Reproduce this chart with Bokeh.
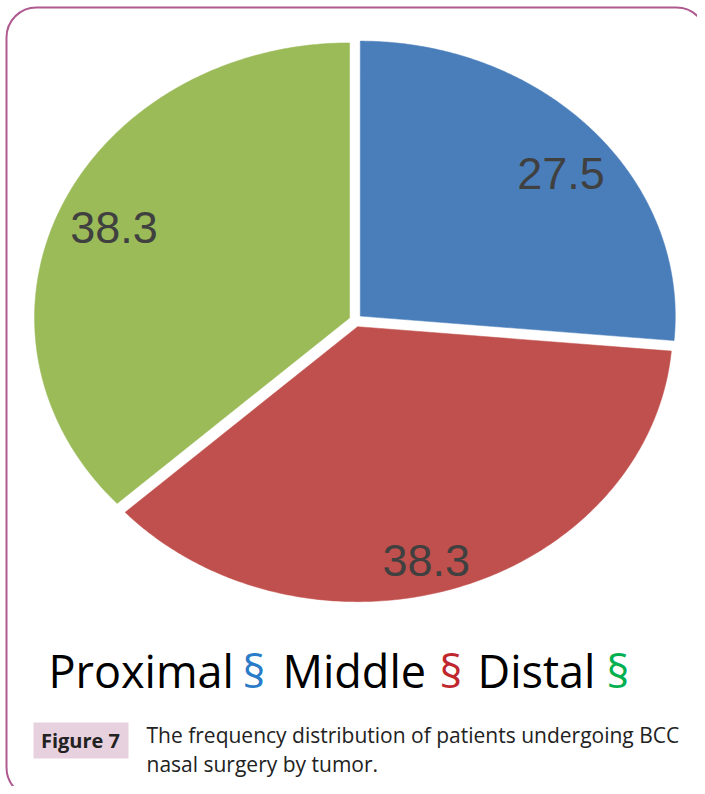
import numpy as np
from bokeh.plotting import figure
from bokeh.models import Range1d, BoxAnnotation, ColumnDataSource
from bokeh.core.properties import value
from bokeh.embed import file_html
from bokeh.resources import INLINE

# ---- data ----
categories = ["Proximal", "Middle", "Distal"]
values = [27.5, 38.3, 38.3]
value_labels = ["27.5", "38.3", "38.3"]
slice_colors = ["#4A7EBB", "#C0504D", "#9BBB59"]
legend_marks = ["#2A7BC8", "#C0272D", "#00B050"]
caption_tag = "Figure 7"
caption_lines = ["The frequency distribution of patients undergoing BCC",
                 "nasal surgery by tumor."]

# ---- layout (picture pixel coordinates) ----
W, H = 697, 786
cx, cy, rx, ry, explode = 355.0, 320.0, 315.0, 275.0, 6.5
label_r = [0.822, 0.878, 0.817]
label_da = [-3.25, -4.3, 0.0]

p = figure(width=W, height=H, output_backend="svg", toolbar_location=None,
           x_range=Range1d(0, W), y_range=Range1d(H, 0),
           min_border=0)
p.axis.visible = False
p.grid.visible = False
p.outline_line_color = None
p.background_fill_color = "white"
p.border_fill_color = "white"

# rounded border
p.add_layout(BoxAnnotation(left=6, right=706, top=7, bottom=797,
                           fill_alpha=0, line_color="#AE5A8E", line_alpha=1,
                           line_width=2, border_radius=30, level="underlay"))

# pie slices
vals = np.array(values, dtype=float)
frac = vals / vals.sum()
cum = np.concatenate([[0.0], np.cumsum(frac)])
xs, ys, lx, ly = [], [], [], []
for i in range(len(vals)):
    a0 = np.deg2rad(90 - 360 * cum[i])
    a1 = np.deg2rad(90 - 360 * cum[i + 1])
    tm = (a0 + a1) / 2
    ox, oy = explode * np.cos(tm), -explode * np.sin(tm)
    t = np.linspace(a0, a1, 200)
    xs.append(list(np.concatenate([[cx + ox], cx + ox + rx * np.cos(t)])))
    ys.append(list(np.concatenate([[cy + oy], cy + oy - ry * np.sin(t)])))
    tl = tm + np.deg2rad(label_da[i])
    lx.append(cx + ox + label_r[i] * rx * np.cos(tl))
    ly.append(cy + oy - label_r[i] * ry * np.sin(tl))

src = ColumnDataSource(dict(xs=xs, ys=ys, color=slice_colors,
                            lx=lx, ly=ly, txt=value_labels))
p.patches("xs", "ys", fill_color="color", line_color="color", line_width=0.5,
          source=src)
p.text("lx", "ly", text="txt", source=src, text_font=value("Liberation Sans"),
       text_font_size="45px", text_color="#404040", text_align="center",
       text_baseline="middle")

# legend line
leg_x = [48, 282, 477]
mark_x = [242, 439, 606]
leg_src = ColumnDataSource(dict(x=leg_x, y=[670] * 3, t=categories))
mark_src = ColumnDataSource(dict(x=mark_x, y=[670] * 3, t=["\u00a7"] * 3,
                                 c=legend_marks))
p.text("x", "y", text="t", source=leg_src, text_font=value("Open Sans"),
       text_font_size="45px", text_color="black", text_baseline="middle")
p.text("x", "y", text="t", source=mark_src, text_font=value("Open Sans"),
       text_font_size="45px", text_color="c", text_baseline="middle")

# caption
p.quad(left=[33], right=[128], top=[722], bottom=[758],
       fill_color="#E8D1DE", line_color=None)
p.text(x=[80], y=[740], text=[caption_tag], text_font=value("Open Sans"),
       text_font_style="bold", text_font_size="20px", text_color="#222222",
       text_align="center", text_baseline="middle")
cap_src = ColumnDataSource(dict(x=[146, 146], y=[734, 763], t=caption_lines))
p.text("x", "y", text="t", source=cap_src, text_font=value("Open Sans"),
       text_font_size="21px", text_color="#222222",
       text_baseline="middle")

open("out.html", "w").write(file_html(p, INLINE))
